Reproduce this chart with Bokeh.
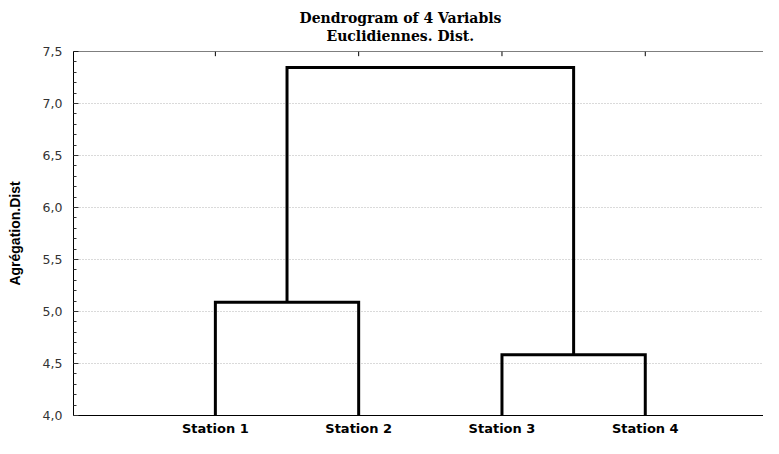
from bokeh.plotting import figure
from bokeh.models import (Range1d, FixedTicker, LinearAxis, Title, CustomJSTickFormatter,
                          ColumnDataSource, Span)
from bokeh.embed import file_html
from bokeh.resources import INLINE

# ---- data ----
stations = ["Station 1", "Station 2", "Station 3", "Station 4"]
link_left = ["Station 1", "Station 3", "A"]
link_right = ["Station 2", "Station 4", "B"]
link_name = ["A", "B", "C"]
link_height = [5.09, 4.585, 7.345]
y_ticks = [4.0, 4.5, 5.0, 5.5, 6.0, 6.5, 7.0, 7.5]
title_main = "Dendrogram of 4 Variabls"
title_sub = "Euclidiennes. Dist."
y_label = "Agrégation.Dist"
base = 4.0

# ---- build dendrogram links ----
pos = {s: i + 1 for i, s in enumerate(stations)}
hgt = {s: base for s in stations}
xs, ys = [], []
for a, b, n, h in zip(link_left, link_right, link_name, link_height):
    xa, xb = pos[a], pos[b]
    xs.append([xa, xa, xb, xb])
    ys.append([hgt[a], h, h, hgt[b]])
    pos[n] = (xa + xb) / 2
    hgt[n] = h
src = ColumnDataSource(dict(xs=xs, ys=ys))

top = y_ticks[-1]
tick_src = ColumnDataSource(dict(x=[pos[s] for s in stations],
                                 y0=[top] * len(stations),
                                 y1=[top - 0.045] * len(stations)))

p = figure(width=763, height=438, output_backend="svg", toolbar_location=None,
           x_range=Range1d(0.01, 4.825), y_range=Range1d(y_ticks[0], top),
           min_border_left=73, min_border_right=0, min_border_top=51, min_border_bottom=0,
           x_axis_location=None, y_axis_location=None)
p.outline_line_color = None
p.background_fill_color = "white"
p.border_fill_color = "white"

# bottom axis
xb_axis = LinearAxis(ticker=FixedTicker(ticks=[1, 2, 3, 4]),
                     major_label_overrides={i + 1: s for i, s in enumerate(stations)})
xb_axis.major_tick_in = 0
xb_axis.major_tick_out = 0
xb_axis.minor_tick_in = 0
xb_axis.minor_tick_out = 0
xb_axis.axis_line_color = "black"
xb_axis.major_label_text_font = "DejaVu Sans"
xb_axis.major_label_text_font_style = "bold"
xb_axis.major_label_text_font_size = "13px"
xb_axis.major_label_text_color = "#000000"
xb_axis.major_label_standoff = 5
p.add_layout(xb_axis, "below")

# left axis
y_axis = LinearAxis(ticker=FixedTicker(ticks=y_ticks,
                                       minor_ticks=[y_ticks[0] + 0.1 * i for i in range(36)]))
y_axis.formatter = CustomJSTickFormatter(code="return tick.toFixed(1).replace('.', ',');")
y_axis.major_tick_in = 5
y_axis.major_tick_out = 0
y_axis.minor_tick_in = 3
y_axis.minor_tick_out = 0
y_axis.axis_line_color = "black"
y_axis.major_tick_line_color = "#333333"
y_axis.minor_tick_line_color = "#333333"
y_axis.major_label_text_font = "DejaVu Sans"
y_axis.major_label_text_font_size = "12.5px"
y_axis.major_label_text_color = "#333333"
y_axis.major_label_standoff = 11
y_axis.axis_label = y_label
y_axis.axis_label_text_font = "Liberation Sans"
y_axis.axis_label_text_font_style = "bold"
y_axis.axis_label_text_font_size = "14px"
y_axis.axis_label_text_color = "#000000"
y_axis.axis_label_standoff = 17
p.add_layout(y_axis, "left")

p.xgrid.visible = False
p.ygrid.ticker = FixedTicker(ticks=y_ticks[:-1])
p.ygrid.grid_line_color = "#b5b5b5"
p.ygrid.grid_line_dash = "1 2"
p.ygrid.grid_line_width = 1

# top frame line with inward ticks at the stations
p.add_layout(Span(location=top, dimension="width", line_color="black", line_width=1))
p.segment(x0="x", y0="y0", x1="x", y1="y1", source=tick_src, line_color="black", line_width=1)

p.multi_line(xs="xs", ys="ys", source=src, line_color="black", line_width=3,
             line_join="miter", line_cap="butt")

p.add_layout(Title(text=title_sub, align="left", offset=253,
                   text_font="DejaVu Serif", text_font_style="bold", text_color="#000000",
                   text_font_size="14px", standoff=15.2), "above")
p.add_layout(Title(text=title_main, align="left", offset=226,
                   text_font="DejaVu Serif", text_font_style="bold", text_color="#000000",
                   text_font_size="14px", standoff=-14.6), "above")

open("out.html", "w").write(file_html(p, INLINE))
